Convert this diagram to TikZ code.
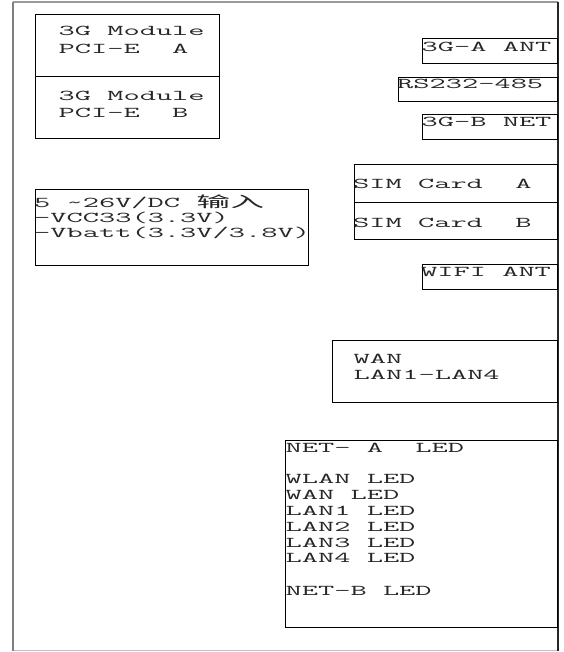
\documentclass[tikz,border=0pt]{standalone}
\usepackage{fontspec}
\newfontfamily\cour[FakeStretch=2.1]{Latin Modern Mono}
\newfontfamily\cjk[FakeStretch=2.26]{Noto Sans CJK SC}
\begin{document}
\begin{tikzpicture}[x=1pt,y=-1pt,
  box/.style={draw=black, line width=1.1pt, inner sep=0pt, anchor=north west},
  txt/.style={anchor=base west, inner sep=0pt, font=\fontsize{15}{16}\selectfont\cour, text=black!85}]
\useasboundingbox (0,0) rectangle (563,652);
\fill[white] (0,0) rectangle (563,652);
% outer frame
\coordinate (otl) at (13,2);
\coordinate (otr) at (557.5,2);
\coordinate (obl) at (13,650.5);
\coordinate (obr) at (557.5,650.5);
\draw[black!40, line width=1.5pt] (otl) -- (otr);
\draw[black!25, line width=1.5pt] (obl) -- (obr);
\draw[black!50, line width=2.6pt] (otl) -- (obl);
\draw[black!85, line width=2pt] (otr) -- (obr);
% boxes
\node[box, minimum width=184pt, minimum height=62pt] (modA) at (35,14) {};
\node[box, minimum width=184pt, minimum height=62pt] (modB) at (35,76) {};
\node[box, minimum width=273pt, minimum height=76pt] (power) at (35,189) {};
\node[box, minimum width=135pt, minimum height=25pt] (antA) at (422,38) {};
\node[box, minimum width=159pt, minimum height=24pt] (rs) at (398,77) {};
\node[box, minimum width=135pt, minimum height=25pt] (netB) at (422,114) {};
\node[box, minimum width=203pt, minimum height=38pt] (simA) at (354,164) {};
\node[box, minimum width=203pt, minimum height=37pt] (simB) at (354,202) {};
\node[box, minimum width=135pt, minimum height=25pt] (wifi) at (422,264) {};
\node[box, minimum width=225pt, minimum height=62pt] (wan) at (332,340) {};
\node[box, minimum width=272pt, minimum height=187pt] (led) at (285,440) {};
% texts
\node[txt] (tA1) at (58.5,36) {3G Module};
\node[txt] (tA2) at (58.5,54) {PCI-E\ \ A};
\node[txt] (tB1) at (58.5,101) {3G Module};
\node[txt] (tB2) at (58.5,118) {PCI-E\ \ B};
\node[txt] (tp1) at (34,207.5) {5 \textasciitilde26V/DC {\cjk 输入}};
\node[txt] (tp2) at (34,222.5) {-VCC33(3.3V)};
\node[txt] (tp3) at (34,237.5) {-Vbatt(3.3V/3.8V)};
\node[txt] (tantA) at (421.5,52) {3G-A ANT};
\node[txt] (trs) at (397,89) {RS232-485};
\node[txt] (tnetB) at (421.5,127) {3G-B NET};
\node[txt] (tsimA) at (353,189) {SIM Card\ \ A};
\node[txt] (tsimB) at (353,227) {SIM Card\ \ B};
\node[txt] (twifi) at (421,276) {WIFI ANT};
\node[txt] (twan1) at (353.5,363) {WAN};
\node[txt] (twan2) at (353.5,379) {LAN1-LAN4};
\node[txt] (tl0) at (285.5,452) {NET-\ A\ \ LED};
\node[txt] (tl1) at (285.5,483) {WLAN LED};
\node[txt] (tl2) at (285.5,499) {WAN LED};
\node[txt] (tl3) at (285.5,515) {LAN1 LED};
\node[txt] (tl4) at (285.5,531) {LAN2 LED};
\node[txt] (tl5) at (285.5,547) {LAN3 LED};
\node[txt] (tl6) at (285.5,562) {LAN4 LED};
\node[txt] (tl7) at (285.5,595) {NET-B LED};
\end{tikzpicture}
\end{document}
